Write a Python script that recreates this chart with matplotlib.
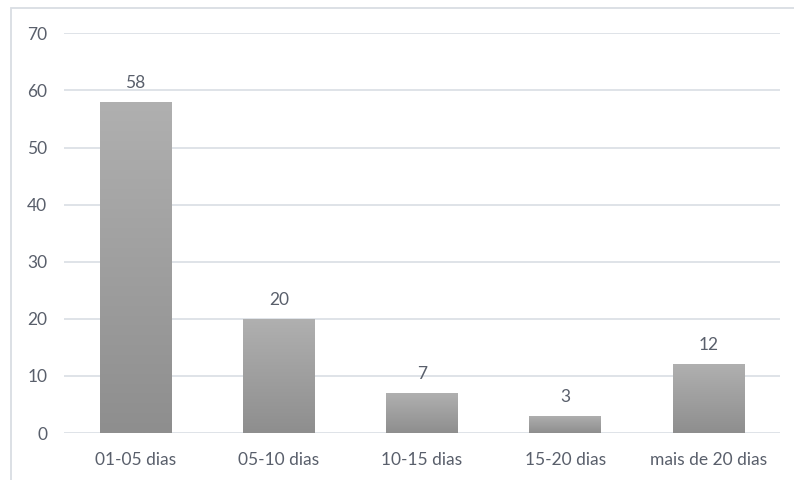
import numpy as np
import matplotlib.pyplot as plt
from matplotlib.patches import Rectangle
from matplotlib.colors import LinearSegmentedColormap

# dias de afastamento por faixa
categorias = ['01-05 dias', '05-10 dias', '10-15 dias', '15-20 dias', 'mais de 20 dias']
valores = [58, 20, 7, 3, 12]

plt.rcParams['font.family'] = ['Lato', 'DejaVu Sans']
texto = '#595f6b'
grade = '#dfe3e8'

fig = plt.figure(figsize=(7.94, 4.8), dpi=100)
ax = fig.add_axes([64 / 794, 1 - 433 / 480, (780 - 64) / 794, (433 - 33.3) / 480])

# moldura do grafico
fig.patches.append(Rectangle((11 / 794, -0.1), 1.0, 1 - 8 / 480 + 0.1,
                             transform=fig.transFigure, fill=False,
                             edgecolor='#d9dde3', linewidth=1.3))

x = np.arange(len(categorias))
barras = ax.bar(x, valores, width=0.5, color='none', edgecolor='none', zorder=2)

# gradiente vertical em cada barra (claro em cima, escuro embaixo)
cmap = LinearSegmentedColormap.from_list('cinza', ['#8e8e8e', '#b0b0b0'])
grad = np.linspace(0, 1, 256).reshape(-1, 1)
for b in barras:
    x0, w, h = b.get_x(), b.get_width(), b.get_height()
    im = ax.imshow(grad, cmap=cmap, origin='lower', aspect='auto',
                   extent=[x0, x0 + w, 0, h], zorder=2)
    im.set_clip_path(b)

for xi, v in zip(x, valores):
    ax.annotate(str(v), (xi, v), xytext=(0, 8), textcoords='offset points',
                ha='center', va='bottom', fontsize=12.5, color=texto)

ax.set_xlim(-0.5, len(categorias) - 0.5)
ax.set_ylim(0, 70)
ax.set_yticks(range(0, 71, 10))
ax.set_xticks(x)
ax.set_xticklabels(categorias)
ax.yaxis.grid(True, color=grade, linewidth=1.4, zorder=0)
ax.set_axisbelow(True)
for s in ax.spines.values():
    s.set_visible(False)
ax.tick_params(length=0, labelsize=12.5, labelcolor=texto)
ax.tick_params(axis='y', pad=12)
ax.tick_params(axis='x', pad=14)

fig.savefig('out.png', dpi=100)
